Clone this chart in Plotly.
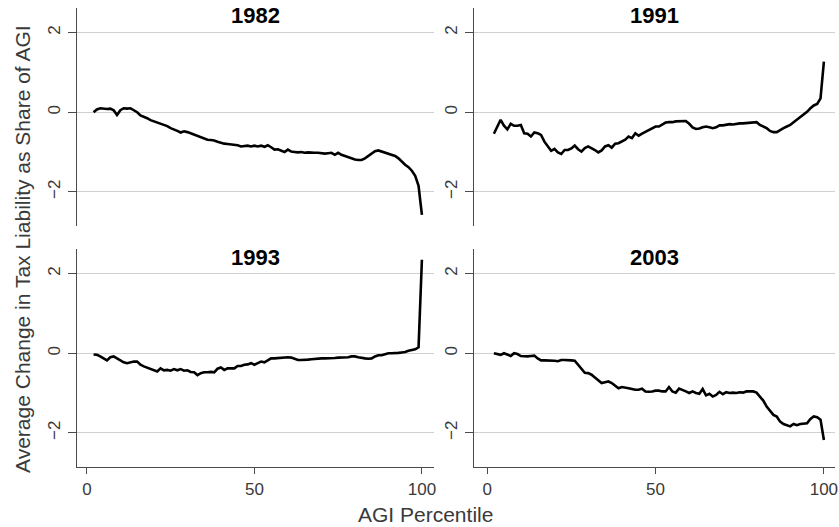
import plotly.graph_objects as go

percentile = list(range(2, 101))

y1982 = [0.0, 0.07, 0.1, 0.09, 0.08, 0.09, 0.05, -0.07, 0.05, 0.1,
         0.09, 0.1, 0.06, 0.0, -0.08, -0.11, -0.15, -0.2, -0.23, -0.25,
         -0.3, -0.33, -0.35, -0.4, -0.43, -0.47, -0.51, -0.48, -0.5, -0.53,
         -0.56, -0.59, -0.62, -0.66, -0.69, -0.7, -0.71, -0.74, -0.77, -0.79,
         -0.8, -0.81, -0.82, -0.83, -0.86, -0.85, -0.84, -0.86, -0.84, -0.86,
         -0.84, -0.87, -0.83, -0.88, -0.94, -0.93, -0.97, -1.0, -0.94, -0.99,
         -1.0, -1.01, -1.0, -1.02, -1.01, -1.02, -1.02, -1.02, -1.03, -1.04,
         -1.03, -1.02, -1.07, -1.02, -1.07, -1.1, -1.13, -1.17, -1.19, -1.2,
         -1.2, -1.16, -1.1, -1.04, -0.98, -0.96, -0.99, -1.01, -1.03, -1.06,
         -1.1, -1.16, -1.25, -1.32, -1.38, -1.47, -1.6, -1.85, -2.58]

y1991 = [-0.54, -0.36, -0.19, -0.34, -0.43, -0.29, -0.34, -0.34, -0.32, -0.53,
         -0.54, -0.61, -0.51, -0.53, -0.57, -0.74, -0.86, -0.97, -0.92, -1.01,
         -1.05, -0.95, -0.95, -0.91, -0.84, -0.93, -0.99, -0.9, -0.86, -0.9,
         -0.95, -1.01, -0.96, -0.86, -0.83, -0.89, -0.79, -0.78, -0.74, -0.69,
         -0.61, -0.65, -0.53, -0.59, -0.54, -0.49, -0.44, -0.4, -0.36, -0.36,
         -0.32, -0.26, -0.25, -0.25, -0.23, -0.23, -0.22, -0.22, -0.29, -0.38,
         -0.42, -0.41, -0.38, -0.36, -0.38, -0.4, -0.38, -0.33, -0.33, -0.32,
         -0.3, -0.31, -0.29, -0.28, -0.28, -0.27, -0.26, -0.25, -0.25, -0.32,
         -0.36, -0.4, -0.47, -0.5, -0.5, -0.44, -0.4, -0.36, -0.32, -0.25,
         -0.19, -0.13, -0.06, 0.01, 0.1, 0.17, 0.21, 0.35, 1.27]

y1993 = [-0.03, -0.04, -0.08, -0.14, -0.18, -0.1, -0.08, -0.13, -0.18, -0.23,
         -0.25, -0.22, -0.21, -0.21, -0.29, -0.33, -0.36, -0.4, -0.44, -0.46,
         -0.38, -0.43, -0.42, -0.44, -0.4, -0.43, -0.4, -0.44, -0.43, -0.47,
         -0.48, -0.55, -0.5, -0.48, -0.48, -0.47, -0.48, -0.39, -0.36, -0.42,
         -0.38, -0.38, -0.38, -0.32, -0.32, -0.29, -0.28, -0.25, -0.29, -0.25,
         -0.21, -0.23, -0.17, -0.13, -0.13, -0.12, -0.11, -0.11, -0.1, -0.11,
         -0.14, -0.17, -0.17, -0.17, -0.16, -0.15, -0.14, -0.14, -0.13, -0.13,
         -0.13, -0.12, -0.12, -0.11, -0.11, -0.1, -0.1, -0.08, -0.08, -0.1,
         -0.12, -0.13, -0.14, -0.13, -0.08, -0.05, -0.05, -0.02, 0.0, 0.0,
         0.0, 0.01, 0.02, 0.03, 0.06, 0.08, 0.1, 0.15, 2.35]

y2003 = [0.0, -0.02, -0.04, 0.0, -0.04, -0.07, 0.0, -0.02, -0.07, -0.08,
         -0.08, -0.07, -0.06, -0.13, -0.18, -0.18, -0.18, -0.18, -0.19, -0.2,
         -0.17, -0.17, -0.17, -0.18, -0.19, -0.29, -0.38, -0.49, -0.5, -0.54,
         -0.61, -0.69, -0.75, -0.73, -0.71, -0.75, -0.81, -0.88, -0.85, -0.86,
         -0.88, -0.9, -0.92, -0.92, -0.89, -0.96, -0.97, -0.96, -0.94, -0.94,
         -0.96, -0.96, -0.85, -0.96, -0.99, -0.89, -0.92, -0.96, -1.0, -0.96,
         -1.0, -1.02, -0.9, -1.06, -1.02, -1.09, -1.05, -0.97, -1.03, -0.98,
         -1.0, -0.99, -1.0, -0.98, -0.99, -0.96, -0.96, -0.96, -0.99, -1.09,
         -1.19, -1.34, -1.46, -1.55, -1.59, -1.72, -1.78, -1.82, -1.84, -1.78,
         -1.81, -1.78, -1.77, -1.76, -1.65, -1.59, -1.61, -1.67, -2.18]

panel_titles = ["1982", "1991", "1993", "2003"]
x_ticks = [0, 50, 100]
y_ticks = [-2, 0, 2]
x_title = "AGI Percentile"
y_title = "Average Change in Tax Liability as Share of AGI"

series = [y1982, y1991, y1993, y2003]

W, H = 839, 527
FONT = "Liberation Sans, Arial, sans-serif"
AXIS_COL = "#4a4a4a"
GRID_COL = "#d0d0d0"
TEXT_COL = "#3a3a3a"

# pixel geometry of panels
xdom_px = [(77, 435), (475.5, 837), (77, 435), (475.5, 837)]
ydom_px = [(8, 226), (8, 226), (249, 467), (249, 467)]
xranges = [[-3.0, 103.6], [-3.8, 103.3], [-3.0, 103.6], [-3.8, 103.3]]
yrange = [-2.86, 2.62]

fig = go.Figure()
for i, ys in enumerate(series):
    sfx = "" if i == 0 else str(i + 1)
    fig.add_trace(go.Scatter(x=percentile, y=ys, mode="lines",
                             line=dict(color="black", width=2.6),
                             xaxis="x" + sfx, yaxis="y" + sfx,
                             showlegend=False, hoverinfo="skip"))
    bottom = i >= 2
    xd = [xdom_px[i][0] / W, xdom_px[i][1] / W]
    yd = [1 - ydom_px[i][1] / H, 1 - ydom_px[i][0] / H]
    fig.layout["xaxis" + sfx] = dict(
        domain=xd, range=xranges[i], anchor="y" + sfx,
        showgrid=False, zeroline=False,
        showline=bottom, linecolor=AXIS_COL, linewidth=1.4,
        ticks="outside" if bottom else "", ticklen=6, tickwidth=1.3,
        tickcolor=AXIS_COL, tickvals=x_ticks,
        showticklabels=bottom,
        tickfont=dict(family=FONT, size=17, color=TEXT_COL),
        fixedrange=True,
    )
    fig.layout["yaxis" + sfx] = dict(
        domain=yd, range=yrange, anchor="x" + sfx,
        showgrid=True, gridcolor=GRID_COL, gridwidth=1.3, zeroline=False,
        showline=True, linecolor=AXIS_COL, linewidth=1.4,
        ticks="outside", ticklen=8, tickwidth=1.3, tickcolor=AXIS_COL,
        tickvals=y_ticks, tickangle=-90, ticklabelstandoff=1,
        tickfont=dict(family=FONT, size=17, color=TEXT_COL),
        fixedrange=True,
    )
    fig.add_annotation(text="<b>%s</b>" % panel_titles[i],
                       xref=("x" + sfx) + " domain", yref=("y" + sfx) + " domain",
                       x=0.5, y=(ydom_px[i][1] - (ydom_px[i][0] + 8)) / 218.0,
                       xanchor="center", yanchor="middle", showarrow=False,
                       font=dict(family=FONT, size=22, color="black"))

fig.add_annotation(text=y_title, xref="paper", yref="paper",
                   x=23 / W, y=1 - 249 / H, textangle=-90,
                   xanchor="center", yanchor="middle", showarrow=False,
                   font=dict(family=FONT, size=21, color=TEXT_COL))
fig.add_annotation(text=x_title, xref="paper", yref="paper",
                   x=427 / W, y=1 - 514 / H,
                   xanchor="center", yanchor="middle", showarrow=False,
                   font=dict(family=FONT, size=21, color=TEXT_COL))

fig.update_layout(width=W, height=H, margin=dict(l=0, r=0, t=0, b=0),
                  paper_bgcolor="white", plot_bgcolor="white",
                  font=dict(family=FONT))

fig.write_html("out.html", config={"displayModeBar": False},
               post_script="document.body.style.margin='0px';"
                           "document.body.style.overflow='hidden';")
